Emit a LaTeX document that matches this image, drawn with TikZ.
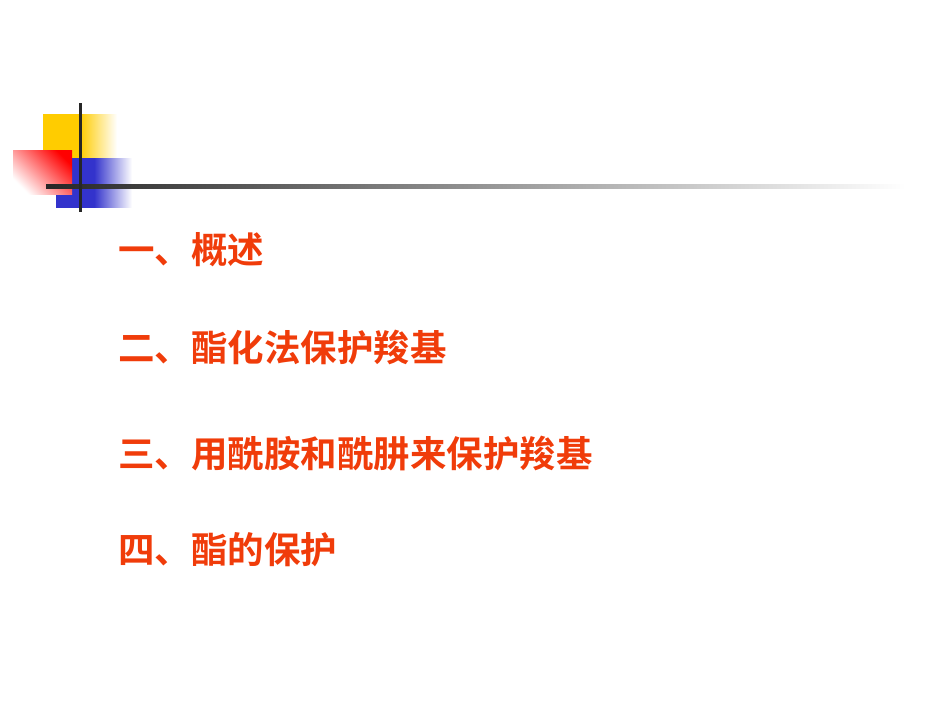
\documentclass[tikz,border=0pt]{standalone}
\usepackage{fontspec}
\newfontfamily\cjk{Noto Sans CJK SC}[BoldFont={Noto Sans CJK SC Bold}]
\definecolor{txt}{HTML}{F03C0A}
\definecolor{gold}{HTML}{FFCC00}
\definecolor{dblue}{HTML}{3333CC}
\begin{document}
\begin{tikzpicture}[x=1pt,y=-1pt,
  item/.style={anchor=west,inner sep=0pt,text=txt,font=\cjk\bfseries\fontsize{36.5}{36.5}\selectfont}]
\useasboundingbox (0,0) rectangle (950,713);
\shade[left color=gold, right color=white, middle color=gold] (43,114) rectangle (117,158);
\shade[left color=dblue, right color=white, middle color=dblue] (56,158) rectangle (132,207);
\shade[shading=axis, top color=red, bottom color=white, shading angle=-45] (13,150) rectangle (72,194);
\shade[left color=black!85, right color=white] (46,184.5) rectangle (905,188.5);
\draw[line width=3pt, black!85] (80,103) coordinate (vt) -- (80,212) coordinate (vb);
\node[item] (a) at (118,250) {一、概述};
\node[item] (b) at (118,347) {二、酯化法保护羧基};
\node[item] (c) at (118,454) {三、用酰胺和酰肼来保护羧基};
\node[item] (d) at (118,550) {四、酯的保护};
\end{tikzpicture}
\end{document}
